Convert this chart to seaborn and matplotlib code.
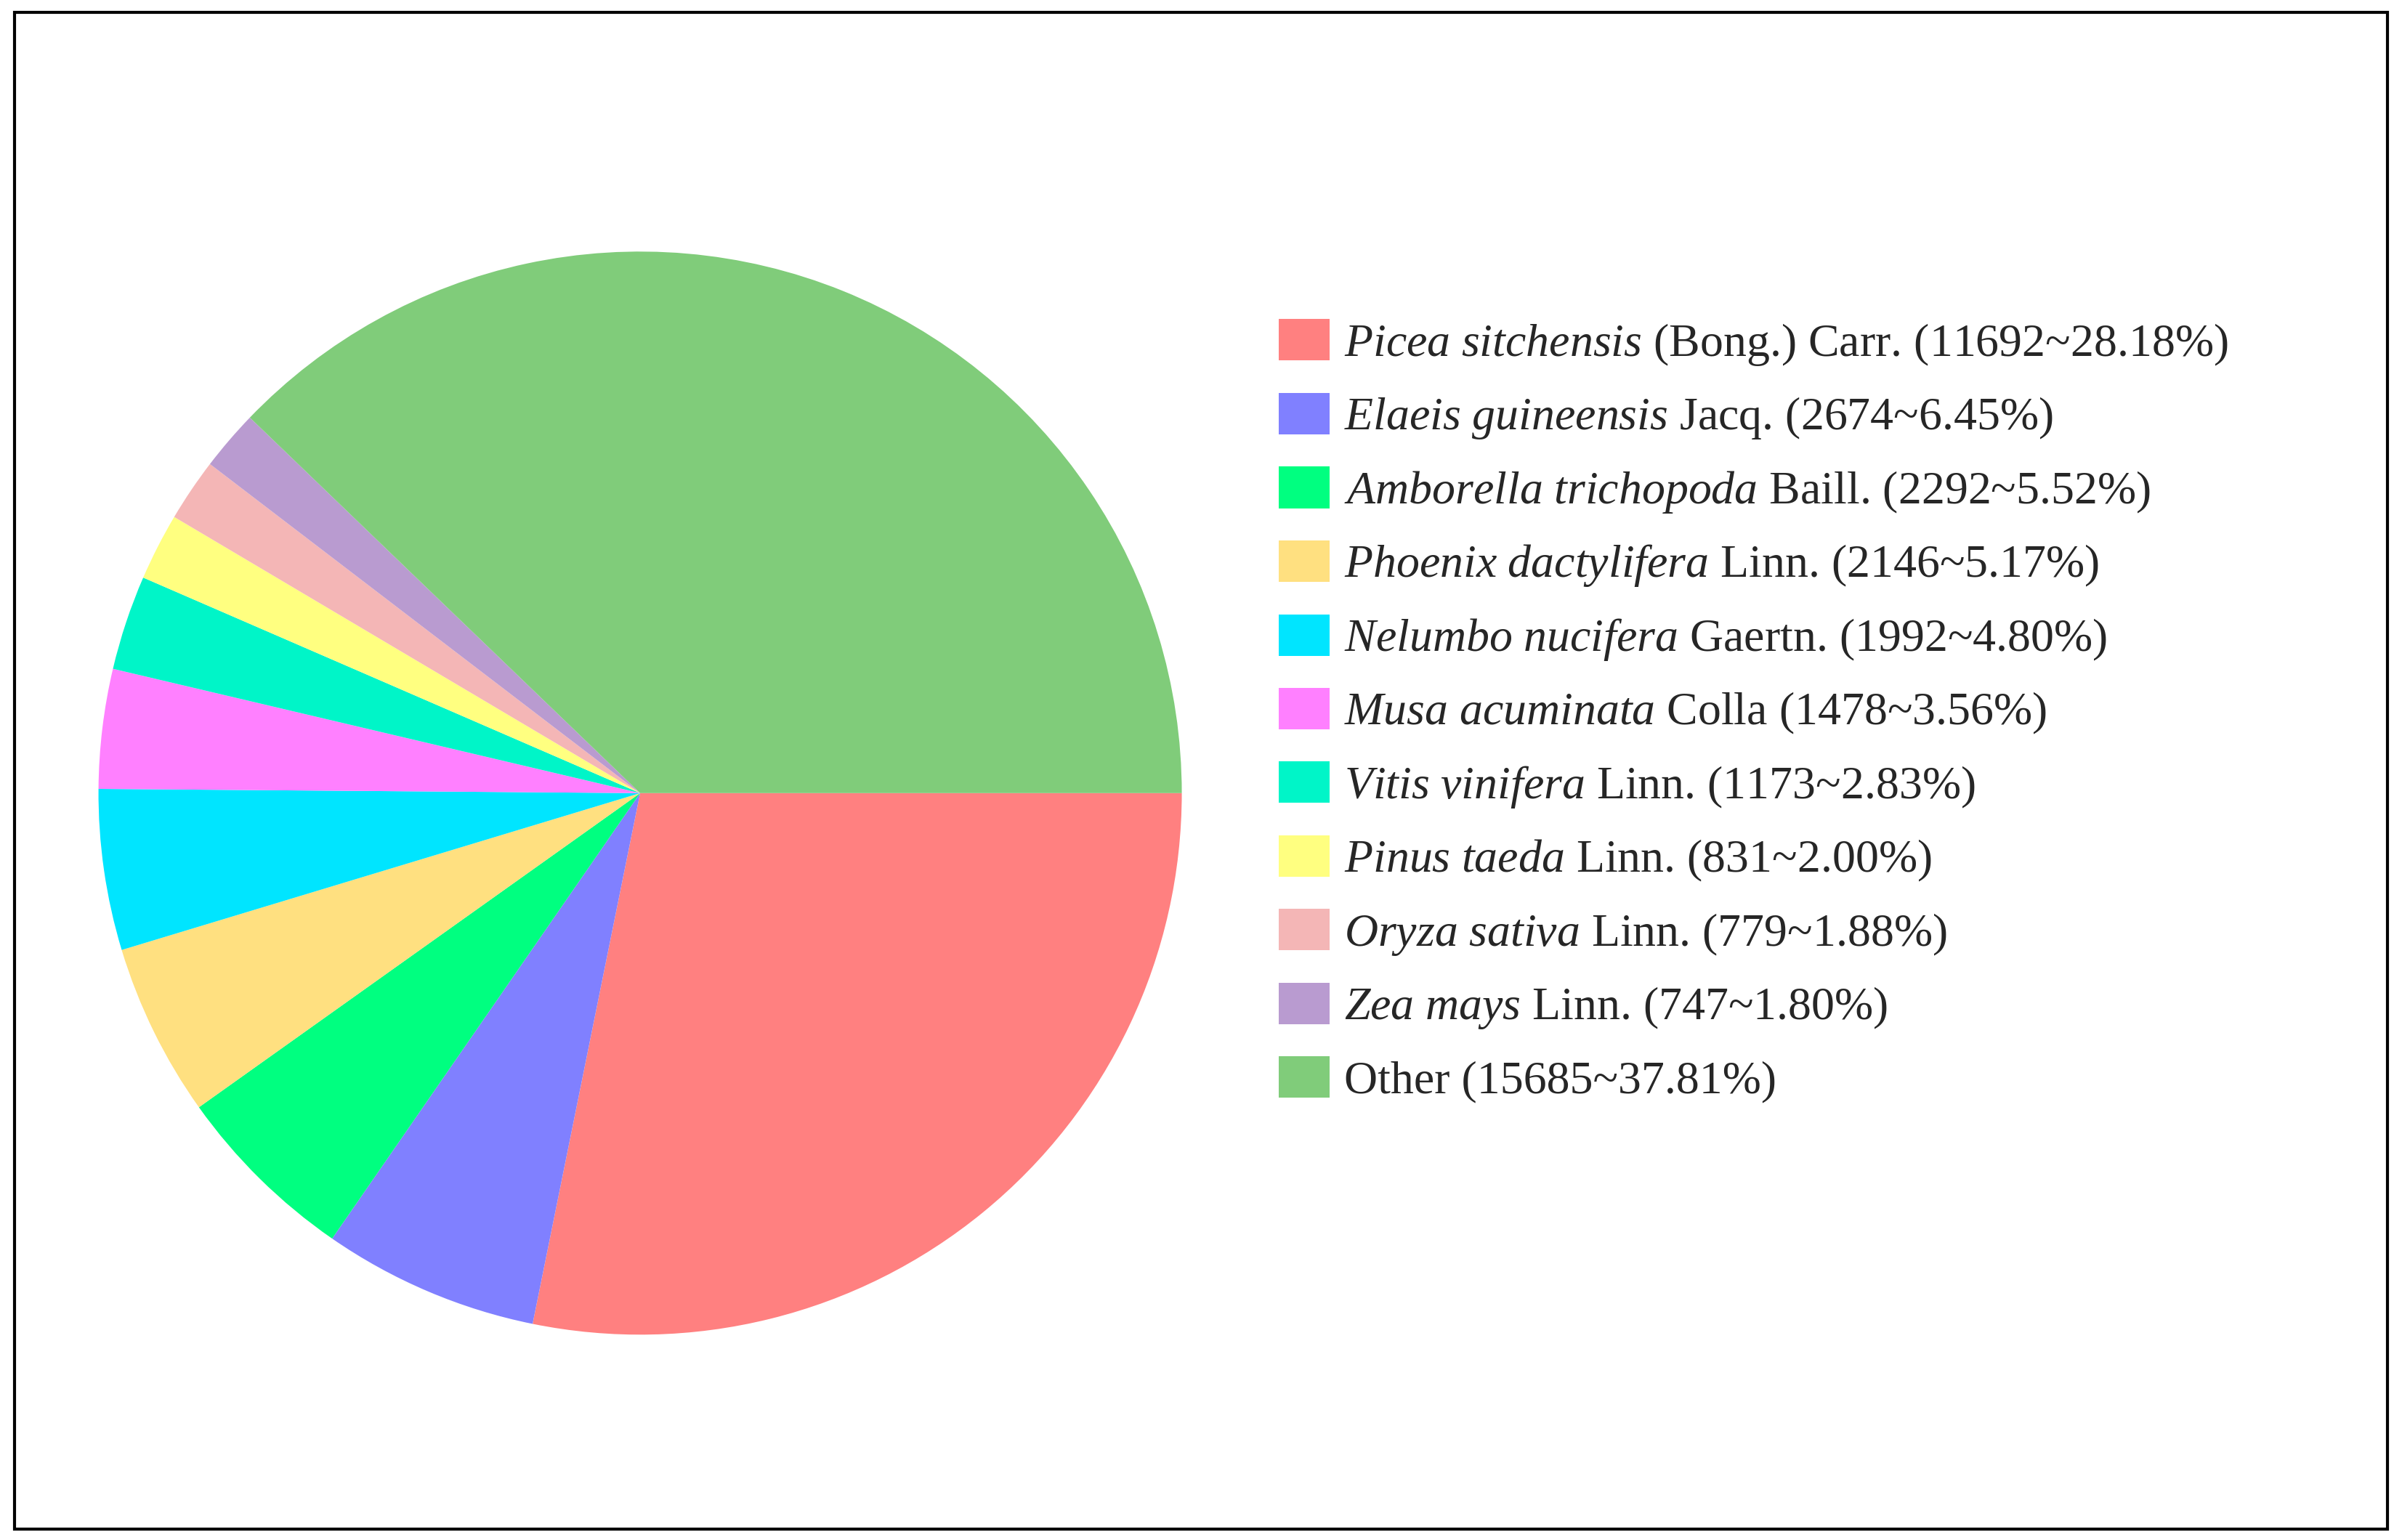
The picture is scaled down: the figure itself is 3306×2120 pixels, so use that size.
import matplotlib
matplotlib.use("Agg")
import matplotlib.pyplot as plt
import seaborn as sns
from matplotlib.patches import Rectangle

sns.set_theme(style="white")
plt.rcParams['font.family'] = ['Liberation Serif', 'DejaVu Serif']
plt.rcParams['mathtext.fontset'] = 'custom'
plt.rcParams['mathtext.it'] = 'Liberation Serif:italic'
plt.rcParams['mathtext.rm'] = 'Liberation Serif'

genus = ["Picea sitchensis", "Elaeis guineensis", "Amborella trichopoda", "Phoenix dactylifera",
         "Nelumbo nucifera", "Musa acuminata", "Vitis vinifera", "Pinus taeda",
         "Oryza sativa", "Zea mays", None]
authors = ["(Bong.) Carr.", "Jacq.", "Baill.", "Linn.", "Gaertn.", "Colla", "Linn.", "Linn.",
           "Linn.", "Linn.", "Other"]
counts = [11692, 2674, 2292, 2146, 1992, 1478, 1173, 831, 779, 747, 15685]
percents = ["28.18", "6.45", "5.52", "5.17", "4.80", "3.56", "2.83", "2.00", "1.88", "1.80", "37.81"]
colors = ["#FF8080", "#8080FF", "#00FF80", "#FFE080", "#00E5FF", "#FF80FF",
          "#00F5C8", "#FFFF80", "#F4B6B6", "#B99BD0", "#80CC7A"]

labels = []
for g, a, c, p in zip(genus, authors, counts, percents):
    tail = f"{a} ({c}~{p}%)"
    if g:
        labels.append("$\\it{" + g.replace(" ", "\\ ") + "}$ " + tail)
    else:
        labels.append(tail)

fig = plt.figure(figsize=(33.06, 21.2), dpi=100)
ax = fig.add_axes([0.041, 0.133, 0.451, 0.704])
wedges, _ = ax.pie(counts, colors=colors, startangle=0, counterclock=False,
                   wedgeprops=dict(linewidth=0))
ax.set_xlim(-1, 1)
ax.set_ylim(-1, 1)
ax.set_aspect("equal")

fig.legend(wedges, labels, loc="upper left", bbox_to_anchor=(0.515, 0.82),
           frameon=False, fontsize=46, handlelength=1.1, handleheight=1.0,
           labelspacing=0.55, handletextpad=0.3)

fig.patches.append(Rectangle((0.006, 0.007), 0.988, 0.985, transform=fig.transFigure,
                             fill=False, edgecolor="black", linewidth=3))
fig.savefig("out.png", dpi=100)
